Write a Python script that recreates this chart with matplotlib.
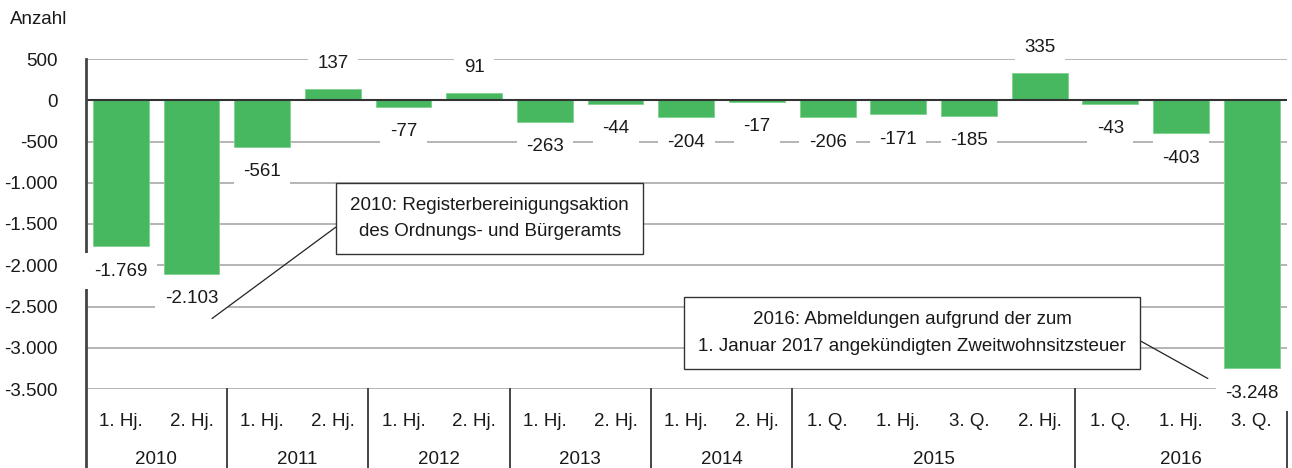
import matplotlib
matplotlib.use("Agg")
import matplotlib.pyplot as plt
import matplotlib.transforms as mtrans
from matplotlib.lines import Line2D

plt.rcParams['font.family'] = ['Liberation Sans', 'DejaVu Sans']

# ---- data ----
years = ["2010", "2011", "2012", "2013", "2014", "2015", "2016"]
periods = ["1. Hj.", "2. Hj.",
           "1. Hj.", "2. Hj.",
           "1. Hj.", "2. Hj.",
           "1. Hj.", "2. Hj.",
           "1. Hj.", "2. Hj.",
           "1. Q.", "1. Hj.", "3. Q.", "2. Hj.",
           "1. Q.", "1. Hj.", "3. Q."]
periods_per_year = [2, 2, 2, 2, 2, 4, 3]
values = [-1769, -2103, -561, 137, -77, 91, -263, -44, -204, -17,
          -206, -171, -185, 335, -43, -403, -3248]
yticks = [500, 0, -500, -1000, -1500, -2000, -2500, -3000, -3500]

note_2010 = "2010: Registerbereinigungsaktion\ndes Ordnungs- und Bürgeramts"
note_2016 = "2016: Abmeldungen aufgrund der zum\n1. Januar 2017 angekündigten Zweitwohnsitzsteuer"

def de(v):
    s = f"{abs(v):,}".replace(",", ".")
    return ("-" if v < 0 else "") + s

FS = 13.5
GREEN = "#47b85f"
TXT = "#1a1a1a"

fig = plt.figure(figsize=(12.92, 4.68), dpi=100)
L, R = 85.5 / 1292, 1287 / 1292
B, T = (468 - 389) / 468, (468 - 59) / 468
ax = fig.add_axes([L, B, R - L, T - B])

x = list(range(len(values)))
ax.bar(x, values, width=0.79, color=GREEN, edgecolor="#7fd08f", linewidth=0.6, zorder=3)
ax.set_xlim(-0.5, len(values) - 0.5)
ax.set_ylim(-3500, 500)

ax.set_yticks(yticks)
ax.set_yticklabels([de(v) for v in yticks], fontsize=FS, color=TXT)
for v in yticks:
    if v == 0:
        continue
    ax.axhline(v, color="#b4b4b4", lw=1.4, zorder=1)
ax.axhline(0, color="#333333", lw=1.5, zorder=4)
ax.tick_params(axis="y", length=0, pad=20)

ax.set_xticks(x)
ax.set_xticklabels(periods, fontsize=FS, color=TXT)
ax.tick_params(axis="x", length=0, pad=17)

for s in ["top", "right", "bottom", "left"]:
    ax.spines[s].set_visible(False)

# value labels
for xi, v in zip(x, values):
    off = 18 if v > 0 else -18
    ax.annotate(de(v), xy=(xi, v), xytext=(0, off), textcoords="offset points",
                ha="center", va="center", fontsize=FS, color=TXT, zorder=10,
                annotation_clip=False,
                bbox=dict(boxstyle="square,pad=0.5", fc="white", ec="none"))

# left axis line and group separators extending through category area
trans = mtrans.blended_transform_factory(ax.transData, fig.transFigure)
bounds = [-0.5]
c = -0.5
for n in periods_per_year:
    c += n
    bounds.append(c)
for i, b in enumerate(bounds):
    top = T if i == 0 else B
    ln = Line2D([b, b], [0, top], transform=trans, color="#444444",
                lw=2.0 if i == 0 else 1.4, zorder=5, clip_on=False)
    ax.add_line(ln)

# year labels
start = -0.5
for yr, n in zip(years, periods_per_year):
    ax.text(start + n / 2, 9 / 468, yr, transform=trans, ha="center",
            va="center", fontsize=FS, color=TXT)
    start += n

# annotations
box = dict(boxstyle="square,pad=0.75", fc="white", ec="#333333", lw=1.0)
ax.annotate(note_2010, xy=(1.29, -2646), xytext=(5.22, -1434), textcoords="data",
            ha="center", va="center", fontsize=FS, linespacing=1.75, bbox=box,
            zorder=11, color=TXT,
            arrowprops=dict(arrowstyle="-", color="#222222", lw=0.9,
                            shrinkA=0, shrinkB=0, relpos=(0, 0.55)))
ax.annotate(note_2016, xy=(15.38, -3373), xytext=(11.2, -2822), textcoords="data",
            ha="center", va="center", fontsize=FS, linespacing=1.75, bbox=box,
            zorder=11, color=TXT,
            arrowprops=dict(arrowstyle="-", color="#222222", lw=0.9,
                            shrinkA=0, shrinkB=0, relpos=(1, 0.5)))

fig.text(10 / 1292, 1 - 20 / 468, "Anzahl", ha="left", va="center",
         fontsize=FS, color=TXT)

fig.savefig("out.png", dpi=100, facecolor="white")
